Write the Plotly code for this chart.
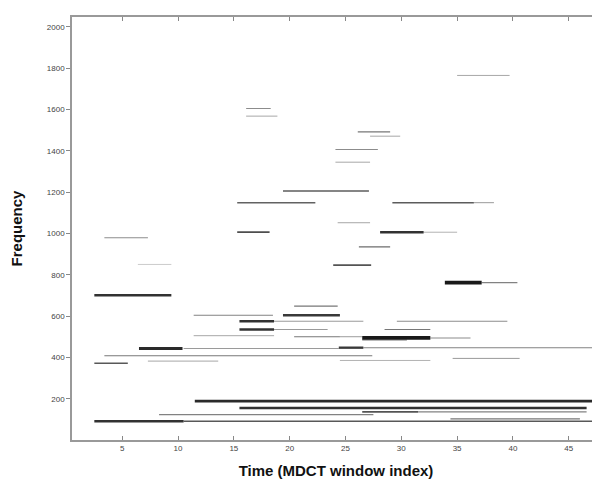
import plotly.graph_objects as go

# Spectral line segments: start / end window index, frequency, magnitude (0..1)
seg_start = [11.5, 15.5, 26.5, 31.5, 8.3, 34.4, 2.5, 10.5,
             2.5, 7.3, 3.4, 6.5, 10.5, 24.4, 26.6,
             11.4, 20.4, 24.5, 26.5, 32.6, 26.5,
             15.5, 18.6, 28.5, 15.5, 18.6, 29.6, 11.4, 19.4, 20.4,
             2.5, 33.9, 37.2, 23.9, 6.4, 26.2, 3.4,
             15.3, 28.1, 32.0, 24.3, 15.3, 29.2, 36.5, 19.4,
             24.1, 24.1, 27.2, 26.1, 16.1, 16.1, 35.0,
             24.5, 34.6]
seg_end = [48.5, 46.6, 31.5, 46.6, 27.5, 46.0, 10.5, 48.5,
           5.5, 13.6, 27.4, 10.4, 24.4, 26.6, 48.5,
           18.6, 24.5, 26.5, 32.6, 36.2, 30.5,
           18.6, 23.4, 32.6, 18.6, 26.6, 39.5, 18.5, 24.5, 24.3,
           9.4, 37.2, 40.4, 27.3, 9.4, 29.0, 7.3,
           18.2, 32.0, 35.0, 27.2, 22.3, 36.5, 38.3, 27.1,
           27.9, 27.2, 29.9, 29.0, 18.3, 18.9, 39.7,
           32.6, 40.6]
seg_freq = [188, 155, 136, 136, 123, 102, 91, 91,
            372, 382, 408, 443, 443, 447, 447,
            505, 500, 500, 494, 494, 484,
            535, 535, 535, 575, 575, 575, 604, 604, 648,
            701, 762, 762, 847, 850, 935, 979,
            1006, 1006, 1006, 1052, 1149, 1149, 1149, 1205,
            1407, 1345, 1471, 1492, 1605, 1568, 1765,
            385, 395]
seg_mag = [0.92, 0.88, 0.72, 0.5, 0.5, 0.55, 0.88, 0.7,
           0.7, 0.35, 0.55, 0.92, 0.4, 0.85, 0.5,
           0.35, 0.55, 0.4, 1.0, 0.45, 0.55,
           0.88, 0.4, 0.55, 0.88, 0.4, 0.45, 0.5, 0.85, 0.55,
           0.88, 1.0, 0.5, 0.72, 0.18, 0.6, 0.45,
           0.75, 0.88, 0.3, 0.35, 0.65, 0.68, 0.4, 0.68,
           0.45, 0.35, 0.35, 0.55, 0.45, 0.35, 0.35,
           0.3, 0.4]

x_ticks = [5, 10, 15, 20, 25, 30, 35, 40, 45]
y_ticks = [200, 400, 600, 800, 1000, 1200, 1400, 1600, 1800, 2000]

fig = go.Figure()
order = sorted(range(len(seg_mag)), key=lambda i: seg_mag[i])
for i in order:
    m = seg_mag[i]
    g = int(round(235 * (1 - m) + 25 * m))
    w = 0.9 + 2.8 * m ** 4
    fig.add_trace(go.Scatter(
        x=[seg_start[i], seg_end[i]], y=[seg_freq[i], seg_freq[i]],
        mode="lines", line=dict(color=f"rgb({g},{g},{g})", width=w),
        showlegend=False, hoverinfo="skip"))

axis_font = dict(family="Arial, Liberation Sans, sans-serif", size=8, color="#444")
title_font = dict(family="Arial, Liberation Sans, sans-serif", size=15, color="#111")

# the page body adds an 8 px margin, so the figure is laid out 8 px smaller
fig.update_layout(
    width=592, height=477,
    margin=dict(l=64, r=0, t=9, b=45, autoexpand=False),
    paper_bgcolor="white", plot_bgcolor="white",
    xaxis=dict(range=[0.5, 47.8], tickvals=x_ticks, ticks="inside", ticklen=4,
               tickcolor="#888", showline=True, linecolor="#999", linewidth=1.5,
               mirror="ticks", showgrid=False, zeroline=False, tickfont=axis_font,
               automargin=False,
               title=dict(text="<b>Time (MDCT window index)</b>", font=title_font, standoff=13)),
    yaxis=dict(range=[0, 2048], tickvals=y_ticks, ticks="outside", ticklen=4,
               tickcolor="#888", showline=True, linecolor="#999", linewidth=1.5,
               showgrid=False, zeroline=False, tickfont=axis_font, automargin=False,
               title=dict(text="<b>Frequency</b>", font=title_font, standoff=24)),
)

fig.write_html("out.html")
